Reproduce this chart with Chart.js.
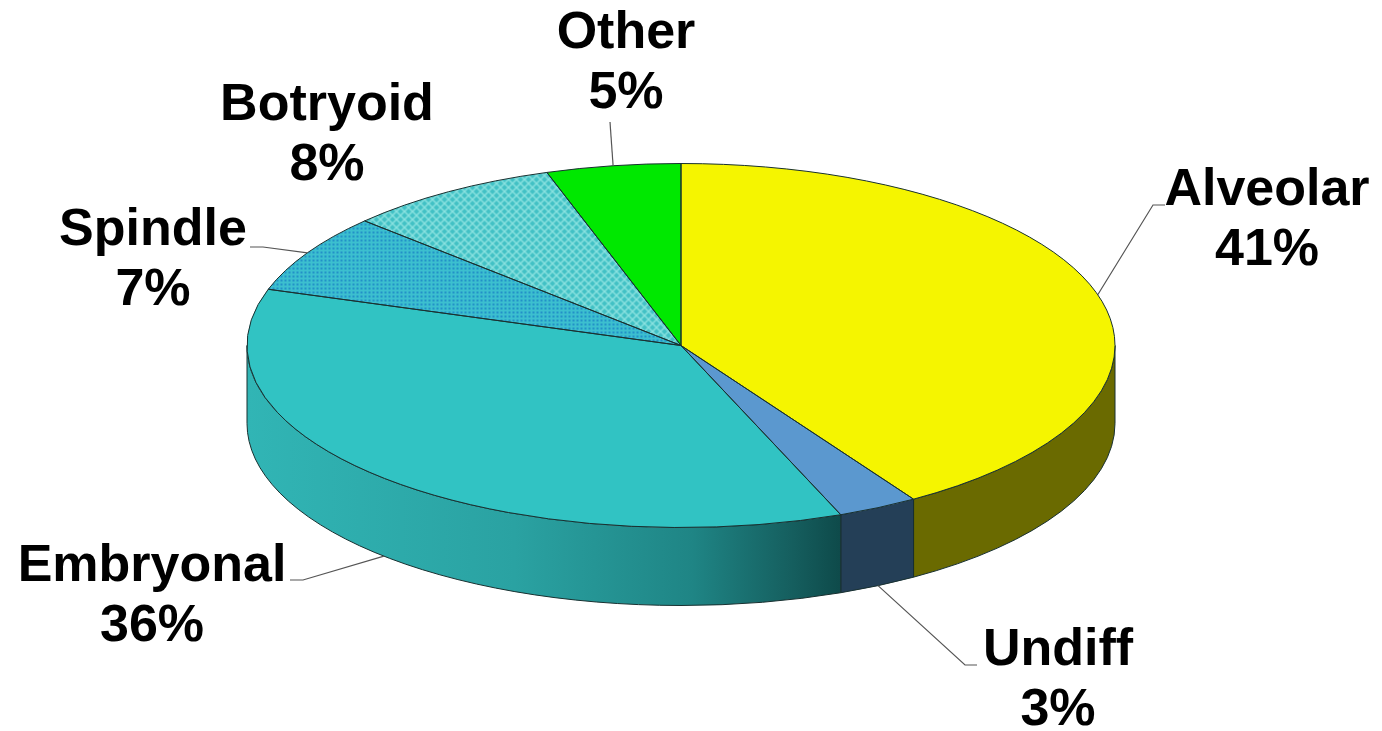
<!DOCTYPE html>
<html><head><meta charset="utf-8">
<script src="https://cdn.jsdelivr.net/npm/chart.js@4.4.0/dist/chart.umd.min.js"></script>
<style>html,body{margin:0;padding:0;background:#fff;}canvas{display:block;}</style>
</head><body>
<canvas id="c" width="1382" height="731"></canvas>
<script>
// ---- data ----
const categories = ['Alveolar', 'Undiff', 'Embryonal', 'Spindle', 'Botryoid', 'Other'];
const percentages = [41, 3, 36, 7, 8, 5];
const percentLabels = ['41%', '3%', '36%', '7%', '8%', '5%'];

// ---- layout / style ----
const PIE = {cx: 681, cy: 345.5, rx: 434, ry: 182, depth: 78};
const LABEL_LAYOUT = [
  {x: 1267, y: 205, elbow: [[1153, 205], [1165, 205]], front: false},
  {x: 1058, y: 665, elbow: [[965, 665], [977, 665]], front: true},
  {x: 152, y: 581, elbow: [[303, 580], [290, 580]], front: true},
  {x: 153, y: 245, elbow: [[263, 247], [250, 247]], front: false},
  {x: 327, y: 120, elbow: null, front: false},
  {x: 626, y: 48, elbow: [[610, 122]], front: false}
];

function makePattern(kind) {
  const c = document.createElement('canvas');
  const g = c.getContext('2d');
  if (kind === 'dots') {
    c.width = 4; c.height = 4;
    g.fillStyle = '#3cbfcf'; g.fillRect(0, 0, 4, 4);
    g.fillStyle = '#2291c8'; g.fillRect(0, 0, 2, 2);
  } else {
    c.width = 8; c.height = 8;
    g.fillStyle = '#42c1c5'; g.fillRect(0, 0, 8, 8);
    g.strokeStyle = '#8ae2e0'; g.lineWidth = 1.5;
    g.beginPath();
    g.moveTo(-1, -1); g.lineTo(9, 9);
    g.moveTo(9, -1); g.lineTo(-1, 9);
    g.stroke();
  }
  return document.createElement('canvas').getContext('2d').createPattern(c, 'repeat');
}
const spindlePat = makePattern('dots');
const botryoidPat = makePattern('grid');
const topColors = ['#f5f500', '#5b98cf', '#31c3c3', spindlePat, botryoidPat, '#00e800'];
const sideColors = ['#6a6a00', '#243f57', 'gradient', '#2a8a9a', '#38a0a0', '#00a000'];

function sidePath(ctx, a, b) {
  const {cx, cy, rx, ry, depth} = PIE;
  ctx.beginPath();
  ctx.ellipse(cx, cy, rx, ry, 0, a, b, false);
  ctx.lineTo(cx + rx * Math.cos(b), cy + ry * Math.sin(b) + depth);
  ctx.ellipse(cx, cy + depth, rx, ry, 0, b, a, true);
  ctx.closePath();
}

const pie3d = {
  id: 'pie3d',
  beforeDatasetsDraw(chart) {
    const ctx = chart.ctx;
    const arcs = chart.getDatasetMeta(0).data;
    const {cx, cy, rx, ry} = PIE;
    const R = arcs[0].outerRadius, ox = arcs[0].x, oy = arcs[0].y;
    // side walls (front half only)
    ctx.save();
    arcs.forEach((arc, i) => {
      const a = Math.max(arc.startAngle, 0), b = Math.min(arc.endAngle, Math.PI);
      if (b <= a) return;
      let fill = sideColors[i];
      if (fill === 'gradient') {
        const g = ctx.createLinearGradient(cx - rx, 0, cx + rx * Math.cos(a), 0);
        g.addColorStop(0, '#31b5b5');
        g.addColorStop(0.45, '#2aa2a2');
        g.addColorStop(0.75, '#1f8585');
        g.addColorStop(0.92, '#155e5e');
        g.addColorStop(1, '#0e4a4a');
        fill = g;
      }
      sidePath(ctx, a, b);
      ctx.fillStyle = fill;
      ctx.fill();
      ctx.lineWidth = 1;
      ctx.strokeStyle = '#183030';
      ctx.stroke();
    });
    ctx.restore();
    // patterns should stay unsquashed on screen
    const m = new DOMMatrix().scale(R / rx, R / ry);
    spindlePat.setTransform(m);
    botryoidPat.setTransform(m);
    // squash the library-drawn pie into the ellipse of the top face
    ctx.save();
    ctx.translate(cx, cy);
    ctx.scale(rx / R, ry / R);
    ctx.translate(-ox, -oy);
  },
  afterDatasetsDraw(chart) {
    const ctx = chart.ctx;
    ctx.restore();
    const arcs = chart.getDatasetMeta(0).data;
    const {cx, cy, rx, ry, depth} = PIE;
    ctx.save();
    ctx.lineWidth = 1;
    ctx.strokeStyle = '#183030';
    arcs.forEach(arc => {
      const s = arc.startAngle, e = arc.endAngle;
      ctx.beginPath();
      ctx.moveTo(cx, cy);
      ctx.lineTo(cx + rx * Math.cos(s), cy + ry * Math.sin(s));
      ctx.ellipse(cx, cy, rx, ry, 0, s, e, false);
      ctx.closePath();
      ctx.stroke();
    });
    // labels and leader lines
    ctx.font = 'bold 52px "Liberation Sans", Arial, sans-serif';
    ctx.textAlign = 'center';
    ctx.textBaseline = 'alphabetic';
    arcs.forEach((arc, i) => {
      const L = LABEL_LAYOUT[i];
      if (L.elbow) {
        const mid = (arc.startAngle + arc.endAngle) / 2;
        const px = cx + rx * Math.cos(mid);
        const py = cy + ry * Math.sin(mid) + (L.front ? depth : 0);
        ctx.beginPath();
        ctx.moveTo(px, py);
        L.elbow.forEach(p => ctx.lineTo(p[0], p[1]));
        ctx.strokeStyle = '#555';
        ctx.lineWidth = 1.2;
        ctx.stroke();
      }
      ctx.fillStyle = '#000';
      ctx.fillText(categories[i], L.x, L.y);
      ctx.fillText(percentLabels[i], L.x, L.y + 60);
    });
    ctx.restore();
  }
};

new Chart(document.getElementById('c'), {
  type: 'pie',
  data: {
    labels: categories,
    datasets: [{
      data: percentages,
      backgroundColor: topColors,
      borderWidth: 0,
      clip: false
    }]
  },
  options: {
    responsive: false,
    animation: false,
    events: [],
    layout: {padding: 0},
    plugins: {legend: {display: false}, tooltip: {enabled: false}}
  },
  plugins: [pie3d]
});
</script>
</body></html>
